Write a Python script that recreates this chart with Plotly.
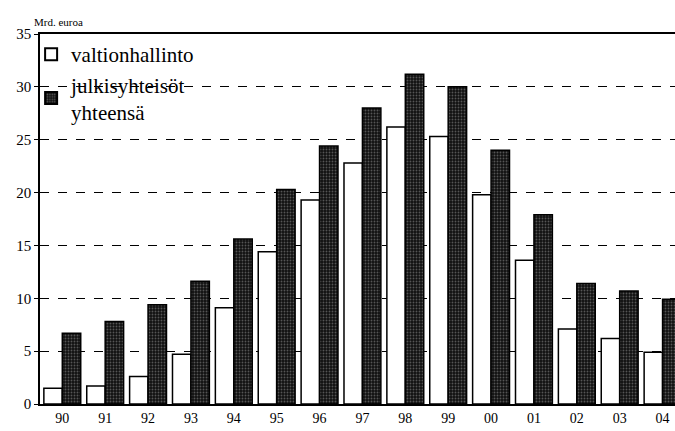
import plotly.graph_objects as go

years = ["90", "91", "92", "93", "94", "95", "96", "97", "98", "99", "00", "01", "02", "03", "04"]
valtionhallinto = [1.5, 1.7, 2.6, 4.7, 9.1, 14.4, 19.3, 22.8, 26.2, 25.3, 19.8, 13.6, 7.1, 6.2, 4.9]
julkisyhteisot = [6.7, 7.8, 9.4, 11.6, 15.6, 20.3, 24.4, 28.0, 31.2, 30.0, 24.0, 17.9, 11.4, 10.7, 9.9]
y_ticks = [0, 5, 10, 15, 20, 25, 30, 35]

font = "Liberation Serif"

fig = go.Figure()
fig.add_trace(go.Bar(
    x=years, y=valtionhallinto, name="valtionhallinto",
    marker=dict(color="white", line=dict(color="black", width=1.5)),
))
fig.add_trace(go.Bar(
    x=years, y=julkisyhteisot, name="julkisyhteisöt<br>yhteensä",
    marker=dict(color="#111111", line=dict(color="black", width=1.5),
                pattern=dict(shape=".", fgcolor="#9a9a9a", bgcolor="#111111", size=3, solidity=0.3)),
))

fig.update_layout(
    width=675, height=431,
    margin=dict(l=40, r=0, t=34, b=27),
    paper_bgcolor="white", plot_bgcolor="white",
    barmode="group", bargap=0.14, bargroupgap=0.0,
    font=dict(family=font, size=14, color="black"),
    showlegend=True,
    legend=dict(x=-0.014, y=1.0, xanchor="left", yanchor="top",
                bgcolor="rgba(255,255,255,0)", borderwidth=0,
                font=dict(family=font, size=21, color="black"),
                itemsizing="constant", tracegroupgap=0),
    annotations=[dict(text="Mrd. euroa", x=0, y=1, xref="paper", yref="paper",
                      xanchor="left", yanchor="bottom", xshift=-8, yshift=4,
                      showarrow=False, font=dict(family=font, size=11, color="black"))],
)
fig.update_xaxes(
    type="category", range=[-0.52, 14.29],
    showline=True, linecolor="black", linewidth=1.5, mirror=True,
    ticks="", showgrid=False, tickfont=dict(family=font, size=14),
)
fig.update_yaxes(
    range=[0, 35], tickvals=y_ticks,
    showline=True, linecolor="black", linewidth=1.5, mirror=False,
    ticks="outside", ticklen=4, tickcolor="black",
    showgrid=True, gridcolor="black", griddash="dash", gridwidth=1,
    zeroline=False, tickfont=dict(family=font, size=15),
)

fig.write_html("out.html", config={"displayModeBar": False},
               post_script="document.body.style.margin='0';document.body.style.padding='0';")
